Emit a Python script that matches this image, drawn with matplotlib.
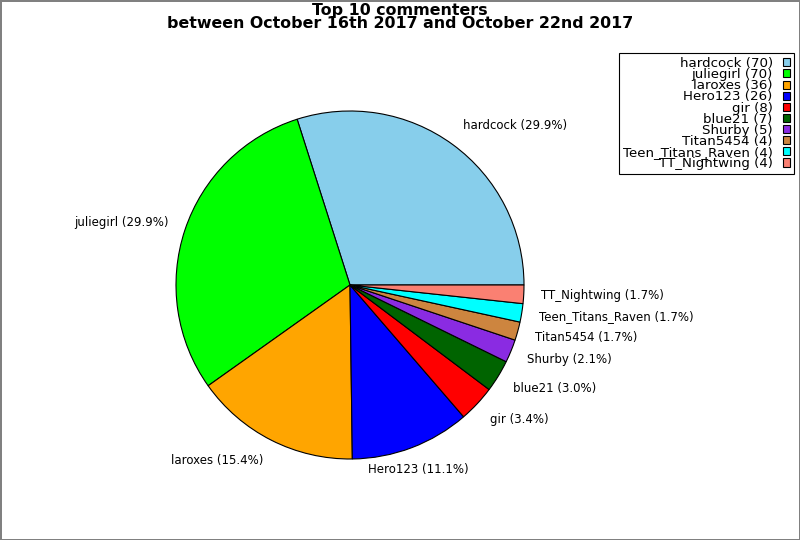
import matplotlib
matplotlib.use('Agg')
import matplotlib.pyplot as plt

names = ['hardcock', 'juliegirl', 'laroxes', 'Hero123', 'gir', 'blue21',
         'Shurby', 'Titan5454', 'Teen_Titans_Raven', 'TT_Nightwing']
counts = [70, 70, 36, 26, 8, 7, 5, 4, 4, 4]
colors = ['skyblue', 'lime', 'orange', 'blue', 'red', 'darkgreen',
          'blueviolet', 'peru', 'cyan', 'salmon']

total = sum(counts)
pie_labels = ['%s (%.1f%%)' % (n, 100.0 * c / total) for n, c in zip(names, counts)]
legend_labels = ['%s (%d)' % (n, c) for n, c in zip(names, counts)]

fig = plt.figure(figsize=(8, 5.4), dpi=100)
fig.patch.set_edgecolor('#808080')
fig.patch.set_linewidth(2)

# square axes so the pie sits where the reference has it
r = 174
ax = fig.add_axes([(350 - r) / 800, (540 - 285 - r) / 540, 2 * r / 800, 2 * r / 540])
wedges, texts = ax.pie(counts, labels=pie_labels, colors=colors,
                       startangle=0, counterclock=True,
                       wedgeprops={'edgecolor': 'black', 'linewidth': 0.8},
                       textprops={'fontsize': 8.5})
ax.set_xlim(-1, 1)
ax.set_ylim(-1, 1)
ax.set_aspect('equal')

# labels sit a bit further out vertically in the reference
for t in texts:
    x, y = t.get_position()
    t.set_position((x, y * 1.03))
texts[3].set_horizontalalignment('center')

fig.suptitle('Top 10 commenters\nbetween October 16th 2017 and October 22nd 2017',
             fontsize=11.4, fontweight='bold', y=0.994, linespacing=0.85)

leg = fig.legend(wedges, legend_labels, loc='upper right',
                 bbox_to_anchor=(794 / 800, 1 - 53 / 540),
                 markerfirst=False, fontsize=9.6, labelspacing=-0.14,
                 handlelength=0.55, handleheight=0.55, handletextpad=0.75,
                 borderpad=0.3, borderaxespad=0, fancybox=False,
                 framealpha=1, edgecolor='black')
leg.get_frame().set_linewidth(0.8)

fig.savefig('out.png', dpi=100, edgecolor=fig.get_edgecolor())
